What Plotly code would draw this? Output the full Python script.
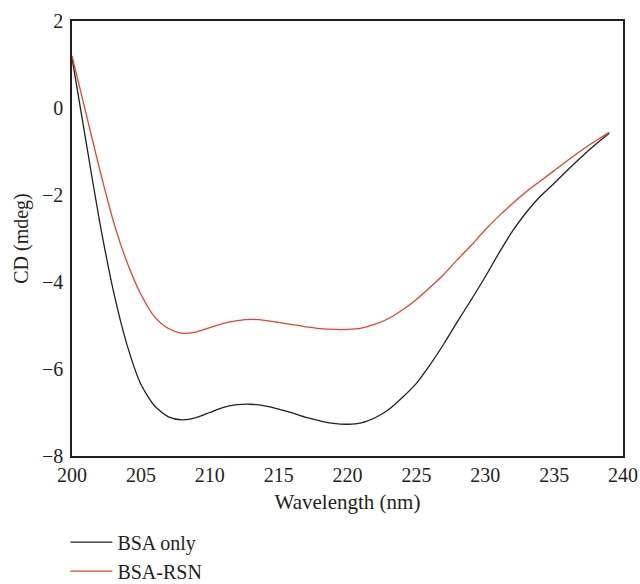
import plotly.graph_objects as go

wavelength = list(range(200, 240))

bsa_only = [1.15, -0.74, -2.6, -4.2, -5.45, -6.35, -6.85, -7.1, -7.17, -7.12,
            -7.0, -6.88, -6.82, -6.81, -6.85, -6.92, -7.01, -7.11, -7.19, -7.25,
            -7.27, -7.24, -7.12, -6.93, -6.65, -6.33, -5.9, -5.42, -4.9, -4.4,
            -3.88, -3.33, -2.82, -2.39, -2.03, -1.73, -1.42, -1.12, -0.84, -0.58]

bsa_rsn = [1.2, -0.1, -1.4, -2.6, -3.55, -4.28, -4.8, -5.07, -5.18, -5.15,
           -5.05, -4.95, -4.89, -4.86, -4.88, -4.93, -4.98, -5.03, -5.07, -5.09,
           -5.09, -5.06, -4.97, -4.84, -4.64, -4.4, -4.12, -3.82, -3.48, -3.15,
           -2.8, -2.48, -2.19, -1.92, -1.68, -1.44, -1.2, -0.97, -0.76, -0.56]

x_ticks = [200, 205, 210, 215, 220, 225, 230, 235, 240]
y_ticks = [-8, -6, -4, -2, 0, 2]

font_family = "Liberation Serif"
axis_color = "#231f20"

fig = go.Figure()
fig.add_trace(go.Scatter(x=wavelength, y=bsa_only, mode="lines", name="BSA only",
                         line=dict(color="#231f20", width=1.3, shape="spline", smoothing=0.7)))
fig.add_trace(go.Scatter(x=wavelength, y=bsa_rsn, mode="lines", name="BSA-RSN",
                         line=dict(color="#e8412c", width=1.3, shape="spline", smoothing=0.7)))

fig.update_layout(
    width=640, height=584,
    margin=dict(l=72, r=17, t=21, b=128, autoexpand=False),
    paper_bgcolor="white", plot_bgcolor="white",
    font=dict(family=font_family, size=20, color=axis_color),
    showlegend=True,
    legend=dict(x=-0.012, y=-0.153, xanchor="left", yanchor="top",
                orientation="v", font=dict(size=20, family=font_family, color=axis_color),
                tracegroupgap=0, itemwidth=42, bgcolor="rgba(0,0,0,0)"),
)
fig.update_xaxes(
    range=[200, 240], tickvals=x_ticks, ticks="", showgrid=False, zeroline=False,
    showline=True, linecolor=axis_color, linewidth=1.5, mirror=True, automargin=False,
    title=dict(text="Wavelength (nm)", font=dict(size=21), standoff=10),
    tickfont=dict(size=20),
)
fig.update_yaxes(
    range=[-8, 2], tickvals=y_ticks, ticks="", showgrid=False, zeroline=False,
    showline=True, linecolor=axis_color, linewidth=1.5, mirror=True, automargin=False,
    title=dict(text="CD (mdeg)", font=dict(size=20), standoff=8),
    tickfont=dict(size=20), ticklabelstandoff=3,
)

fig.write_html(
    "out.html",
    config={"displayModeBar": False},
    post_script="document.body.style.margin='0';document.body.style.overflow='hidden';",
)
